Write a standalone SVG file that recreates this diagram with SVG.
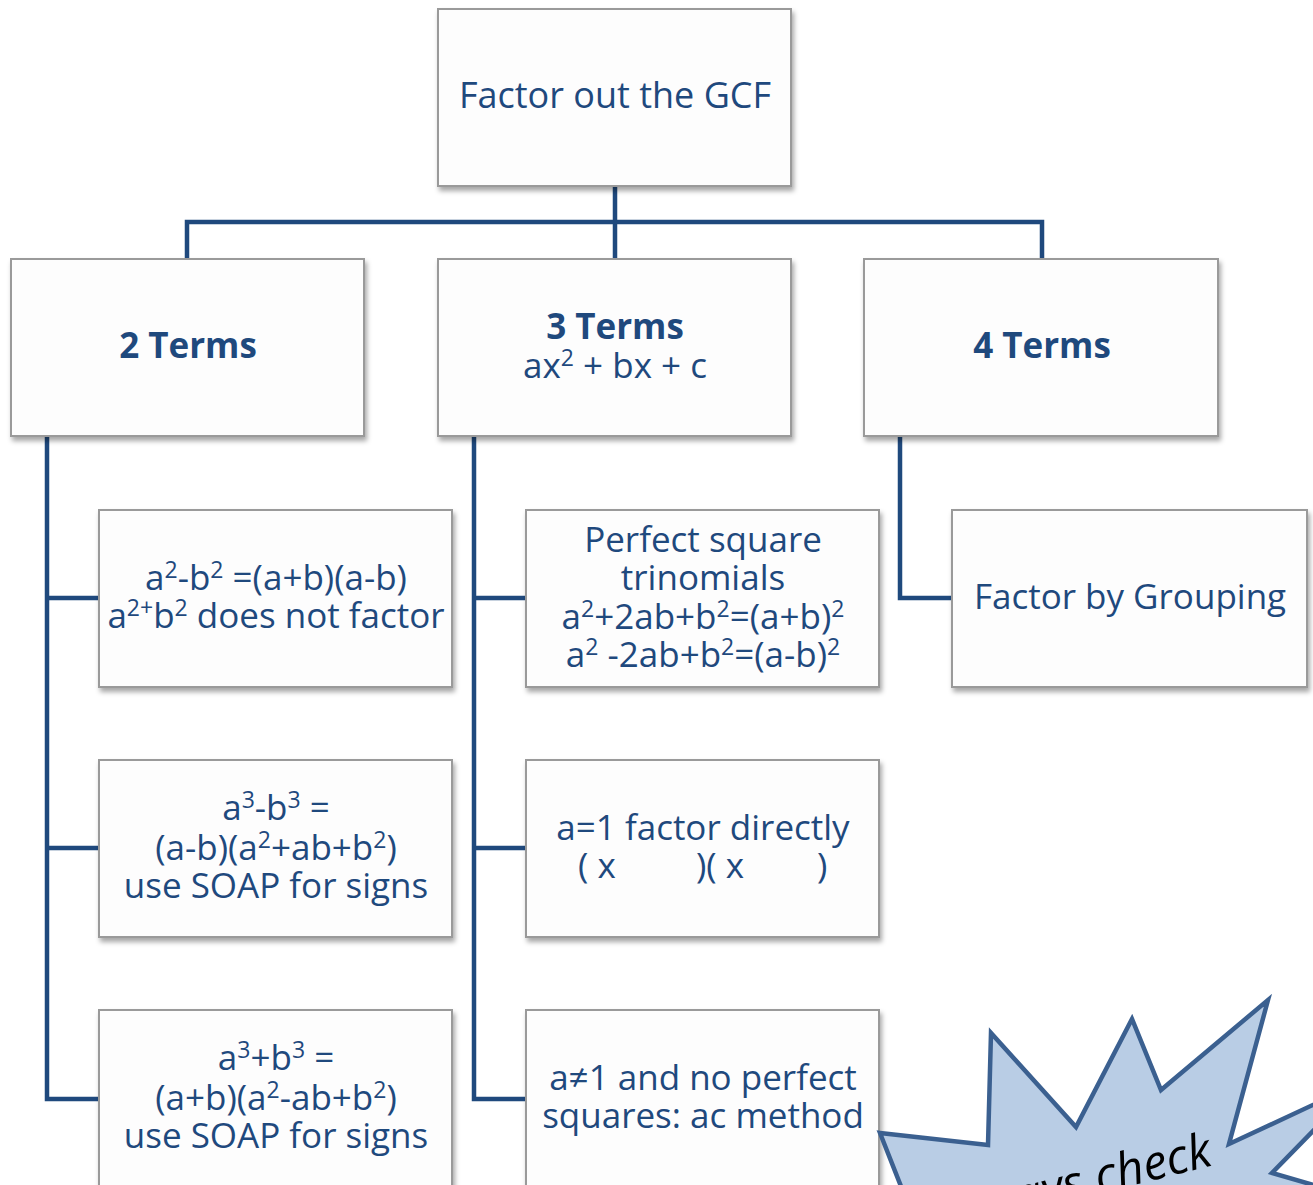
<svg xmlns="http://www.w3.org/2000/svg" width="1313" height="1185" viewBox="0 0 1313 1185">
<defs>
<filter id="sh" x="-5%" y="-5%" width="115%" height="120%">
<feDropShadow dx="2" dy="4" stdDeviation="2.5" flood-color="#000" flood-opacity="0.35"/>
</filter>
<style>
.box{fill:#fdfdfd;stroke:#9a9a9a;stroke-width:2;filter:url(#sh)}
.conn{fill:none;stroke:#1f497d;stroke-width:4.5;stroke-linejoin:miter;stroke-linecap:butt}
text{font-family:"Open Sans","Noto Sans","Liberation Sans",sans-serif;fill:#1f497d;text-anchor:middle}
.t{font-size:35px}
.l{text-anchor:start}
.big{font-size:36px}
.b{font-size:35px;font-weight:bold}
.star{fill:#b9cde5;stroke:#3b6090;stroke-width:4.5;stroke-linejoin:miter}
.st{font-family:"Open Sans","Noto Sans","Liberation Sans",sans-serif;font-style:italic;font-size:48px;fill:#000;text-anchor:end}
</style>
</defs>
<rect width="1313" height="1185" fill="#fff"/>
<g id="connectors">
<path class="conn" d="M615,186 V259 M187,259 V222 H1042 V259"/>
<path class="conn" d="M47,436 V1099 H99 M47,598 H99 M47,848 H99"/>
<path class="conn" d="M474,436 V1099 H526 M474,598 H526 M474,848 H526"/>
<path class="conn" d="M900,436 V598 H952"/>
</g>
<g id="gcf"><rect class="box" x="438" y="9" width="353" height="177"/><text class="big" x="615" y="108">Factor out the GCF</text></g>
<g id="two"><rect class="box" x="11" y="259" width="353" height="177"/><text class="b" x="188" y="358">2 Terms</text></g>
<g id="three"><rect class="box" x="438" y="259" width="353" height="177"/><text class="b" x="615" y="339">3 Terms</text><text class="t" x="615" y="378">ax<tspan font-size="23" dy="-12">2</tspan><tspan dy="12"> + bx + c</tspan></text></g>
<g id="four"><rect class="box" x="864" y="259" width="354" height="177"/><text class="b" x="1042" y="358">4 Terms</text></g>
<g id="diffsq"><rect class="box" x="99" y="510" width="353" height="177"/>
<text class="t" x="276" y="590">a<tspan font-size="23" dy="-12">2</tspan><tspan dy="12">-b</tspan><tspan font-size="23" dy="-12">2</tspan><tspan dy="12"> =(a+b)(a-b)</tspan></text>
<text class="t" x="276" y="628">a<tspan font-size="23" dy="-12">2+</tspan><tspan dy="12">b</tspan><tspan font-size="23" dy="-12">2</tspan><tspan dy="12"> does not factor</tspan></text></g>
<g id="diffcube"><rect class="box" x="99" y="760" width="353" height="177"/>
<text class="t" x="276" y="820">a<tspan font-size="23" dy="-12">3</tspan><tspan dy="12">-b</tspan><tspan font-size="23" dy="-12">3</tspan><tspan dy="12"> =</tspan></text>
<text class="t" x="276" y="860">(a-b)(a<tspan font-size="23" dy="-12">2</tspan><tspan dy="12">+ab+b</tspan><tspan font-size="23" dy="-12">2</tspan><tspan dy="12">)</tspan></text>
<text class="t" x="276" y="898">use SOAP for signs</text></g>
<g id="sumcube"><rect class="box" x="99" y="1010" width="353" height="190"/>
<text class="t" x="276" y="1070">a<tspan font-size="23" dy="-12">3</tspan><tspan dy="12">+b</tspan><tspan font-size="23" dy="-12">3</tspan><tspan dy="12"> =</tspan></text>
<text class="t" x="276" y="1110">(a+b)(a<tspan font-size="23" dy="-12">2</tspan><tspan dy="12">-ab+b</tspan><tspan font-size="23" dy="-12">2</tspan><tspan dy="12">)</tspan></text>
<text class="t" x="276" y="1148">use SOAP for signs</text></g>
<g id="perfsq"><rect class="box" x="526" y="510" width="353" height="177"/>
<text class="t" x="703" y="552">Perfect square</text>
<text class="t" x="703" y="590">trinomials</text>
<text class="t" x="703" y="629">a<tspan font-size="23" dy="-12">2</tspan><tspan dy="12">+2ab+b</tspan><tspan font-size="23" dy="-12">2</tspan><tspan dy="12">=(a+b)</tspan><tspan font-size="23" dy="-12">2</tspan></text>
<text class="t" x="703" y="667">a<tspan font-size="23" dy="-12">2</tspan><tspan dy="12"> -2ab+b</tspan><tspan font-size="23" dy="-12">2</tspan><tspan dy="12">=(a-b)</tspan><tspan font-size="23" dy="-12">2</tspan></text></g>
<g id="aone"><rect class="box" x="526" y="760" width="353" height="177"/>
<text class="t" x="703" y="840">a=1 factor directly</text>
<text class="t l" x="578" y="878">( x</text>
<text class="t l" x="696" y="878">)( x</text>
<text class="t l" x="817" y="878">)</text></g>
<g id="ac"><rect class="box" x="526" y="1010" width="353" height="190"/>
<text class="t" x="703" y="1090">a≠1 and no perfect</text>
<text class="t" x="703" y="1128">squares: ac method</text></g>
<g id="grouping"><rect class="box" x="952" y="510" width="355" height="177"/><text class="t" x="1130" y="609">Factor by Grouping</text></g>
<g id="burst">
<polygon class="star" points="880,1133 988,1145 991,1033 1076,1127 1132,1019 1161,1090 1268,1000 1229,1144 1360,1083 1272,1173 1400,1210 1300,1300 930,1260"/>
<text class="st" transform="translate(1214,1165) rotate(-14)">Always check</text>
</g>
</svg>
